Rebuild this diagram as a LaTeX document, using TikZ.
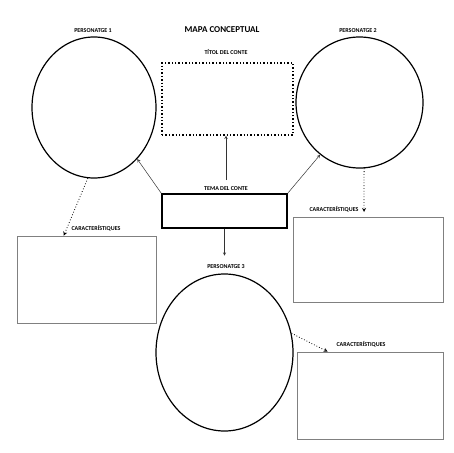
\documentclass[tikz,border=0pt]{standalone}
\usepackage{fontspec}
\setmainfont{Carlito}
\usetikzlibrary{shapes.geometric}

\begin{document}
\begin{tikzpicture}[x=1pt, y=-1pt,
    label/.style={font=\fontsize{6}{7}\selectfont\bfseries, inner sep=0pt},
    persona/.style={draw, ellipse, line width=1.2pt, inner sep=0pt},
    trets/.style={draw=gray, line width=0.6pt, inner sep=0pt},
    link/.style={->, >=stealth, line width=0.5pt, draw=black!80},
    dotlink/.style={->, >=stealth, dotted, line width=0.8pt}]
    \useasboundingbox (0, 0) rectangle (453, 453);

    \node (titol) at (222, 30) {\fontsize{9}{11}\selectfont\bfseries MAPA CONCEPTUAL};

    \node[label] (L1) at (93, 31) {PERSONATGE 1};
    \node[label] (L2) at (358, 31) {PERSONATGE 2};
    \node[label] (L3) at (226, 267) {PERSONATGE 3};

    \node[persona, minimum width=124pt, minimum height=141pt] (P1) at (94, 107.5) {};
    \node[persona, minimum width=127pt, minimum height=131pt] (P2) at (359.5, 102.5) {};
    \node[persona, minimum width=137pt, minimum height=157pt] (P3) at (224.5, 352.5) {};

    \node[label] (LT) at (226, 52) {TÍTOL DEL CONTE};
    \node[draw, dotted, line width=1.4pt, minimum width=131pt, minimum height=72pt] (T) at (227.5, 99) {};

    \node[label] (LM) at (226, 189) {TEMA DEL CONTE};
    \node[draw, line width=1.4pt, minimum width=125pt, minimum height=34pt] (M) at (224.5, 211) {};

    \node[label] (C1) at (96, 228) {CARACTERÍSTIQUES};
    \node[label] (C2) at (334, 209) {CARACTERÍSTIQUES};
    \node[label] (C3) at (361, 344) {CARACTERÍSTIQUES};

    \node[trets, minimum width=139pt, minimum height=87pt] (B1) at (86.5, 279.5) {};
    \node[trets, minimum width=150pt, minimum height=85pt] (B2) at (368, 259.5) {};
    \node[trets, minimum width=146pt, minimum height=87pt] (B3) at (370, 395.5) {};

    \coordinate (A) at (226, 180);
    \coordinate (E2) at (364, 212);

    \draw[link] (A) -- (A |- T.south);
    \draw[link] (M.north west) -- (P1.-50);
    \draw[link] (M.north east) -- (P2.-127);
    \draw[link] (M.south) -- ++(0, 27);
    \draw[dotlink] (P1.-95) -- ([xshift=47pt]B1.north west);
    \draw[dotlink] (P2.-86) -- (E2);
    \draw[dotlink] (P3.16) -- ([xshift=31pt]B3.north west);
    \end{tikzpicture}
\end{document}
